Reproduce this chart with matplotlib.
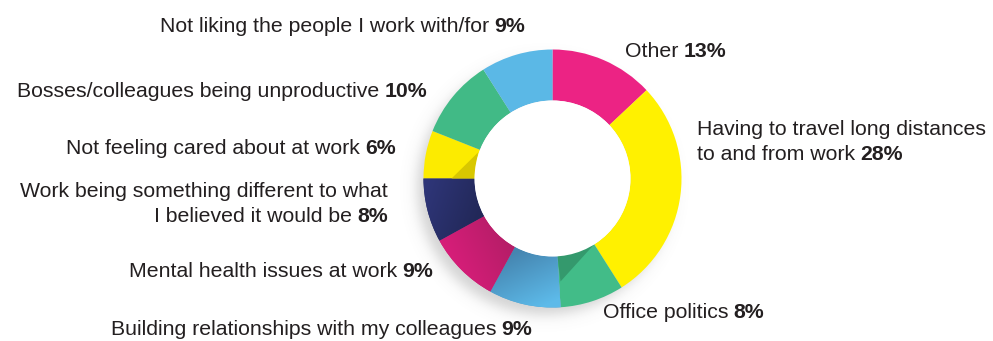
import numpy as np
import matplotlib
matplotlib.use("Agg")
import matplotlib.pyplot as plt
from matplotlib.patches import Circle, Polygon
from matplotlib.colors import to_rgb

# Survey answers, clockwise from 12 o'clock
labels = [
    "Other",
    "Having to travel long distances\nto and from work",
    "Office politics",
    "Building relationships with my colleagues",
    "Mental health issues at work",
    "Work being something different to what\nI believed it would be",
    "Not feeling cared about at work",
    "Bosses/colleagues being unproductive",
    "Not liking the people I work with/for",
]
shares = [13, 28, 8, 9, 9, 8, 6, 10, 9]
colors = ["#EC2384", "#FFF100", "#42BC88", "#509FCF", "#C91E72",
          "#272D66", "#FCEB00", "#41BA86", "#5BB8E6"]

# label anchor (x, baseline of last line, alignment) in pixel units
label_pos = [
    (625, 57, "left"),
    (697, 160, "left"),
    (603, 318, "left"),
    (532, 335, "right"),
    (433, 277, "right"),
    (388, 222, "right"),
    (396, 154, "right"),
    (427, 97, "right"),
    (525, 32, "right"),
]

W, H = 993, 341
fig = plt.figure(figsize=(W / 100, H / 100), dpi=100)
ax = fig.add_axes([0, 0, 1, 1])

cx, cy = 552.5, H - 178.5
r_out, r_in = 129, 78

# soft drop shadow under the ring
yy, xx = np.mgrid[0:H, 0:W] + 0.5
d = np.hypot(xx - (cx - 8), yy - (cy - 9))
alpha = 0.32 * 0.5 * (1 - np.tanh((d - (r_out - 2)) / 8.0))
shadow = np.zeros((H, W, 4))
shadow[..., :3] = 0.45
shadow[..., 3] = alpha
ax.imshow(shadow, extent=(0, W, 0, H), origin="lower", zorder=0,
          interpolation="bilinear")
ax.add_patch(Circle((cx, cy), r_in, facecolor="white", edgecolor="none", zorder=0.5))

wedges, _ = ax.pie(shares, colors=colors, startangle=90, counterclock=False,
                   radius=r_out, center=(cx, cy), frame=True,
                   wedgeprops=dict(width=r_out - r_in, edgecolor="none", zorder=2))


def shade(wedge, c0, c1, p0, p1):
    """Linear colour ramp from c0 at p0 to c1 at p1, clipped to a wedge."""
    x0, y0 = p0
    x1, y1 = p1
    v = np.array([x1 - x0, y1 - y0], float)
    t = ((xx - x0) * v[0] + (yy - y0) * v[1]) / (v @ v)
    t = np.clip(t, 0, 1)[..., None]
    img = (1 - t) * np.array(to_rgb(c0)) + t * np.array(to_rgb(c1))
    im = ax.imshow(img, extent=(0, W, 0, H), origin="lower", zorder=2.5,
                   interpolation="bilinear")
    im.set_clip_path(wedge)


# Building relationships: darker near the hole, lighter at the rim
shade(wedges[3], "#4585B0", "#5DBAE9", (cx - 30, cy - 70), (cx - 5, cy - 125))
# Mental health: brighter left, deeper right
shade(wedges[4], "#D81E7A", "#B31D66", (cx - 110, cy - 70), (cx - 50, cy - 40))
# Work being different: slight ramp across the slice
shade(wedges[5], "#2E3577", "#222858", (cx - 125, cy - 10), (cx - 70, cy - 30))

# folded-ribbon darker corners
ax.add_patch(Polygon([(cx + 41.5, cy - 66.0), (cx + 5.0, cy - 77.8),
                      (cx + 8.0, cy - 103.0)],
                     closed=True, facecolor="#34996D", edgecolor="none", zorder=3))
ax.add_patch(Polygon([(cx - 74.5, cy + 26.0), (cx - 78.0, cy),
                      (cx - 101.0, cy)],
                     closed=True, facecolor="#D8C700", edgecolor="none", zorder=3))
# keep the hole clean over the corner patches
ax.add_patch(Circle((cx, cy), r_in, facecolor="white", edgecolor="none", zorder=3.5))

ax.set_xlim(0, W)
ax.set_ylim(0, H)
ax.set_aspect("equal")
ax.axis("off")

font = "Liberation Sans"
fs = 15.3
txt_color = "#231F20"
line_h = 25
gap = 5

fig.canvas.draw()
renderer = fig.canvas.get_renderer()


def width_of(t):
    return t.get_window_extent(renderer).width


for lab, val, (x, yb, ha) in zip(labels, shares, label_pos):
    lines = lab.split("\n")
    y = H - yb
    pct = f"{val}%"
    for i, ln in enumerate(lines[:-1]):
        ax.text(x, y + line_h * (len(lines) - 1 - i), ln, ha=ha, va="baseline",
                fontsize=fs, family=font, color=txt_color)
    last = lines[-1]
    if ha == "left":
        t = ax.text(x, y, last, ha="left", va="baseline", fontsize=fs,
                    family=font, color=txt_color)
        w = width_of(t)
        ax.text(x + w + gap, y, pct, ha="left", va="baseline", fontsize=fs,
                family=font, weight="bold", color=txt_color)
    else:
        b = ax.text(x, y, pct, ha="right", va="baseline", fontsize=fs,
                    family=font, weight="bold", color=txt_color)
        w = width_of(b)
        ax.text(x - w - gap, y, last, ha="right", va="baseline", fontsize=fs,
                family=font, color=txt_color)

fig.savefig("out.png", dpi=100)
